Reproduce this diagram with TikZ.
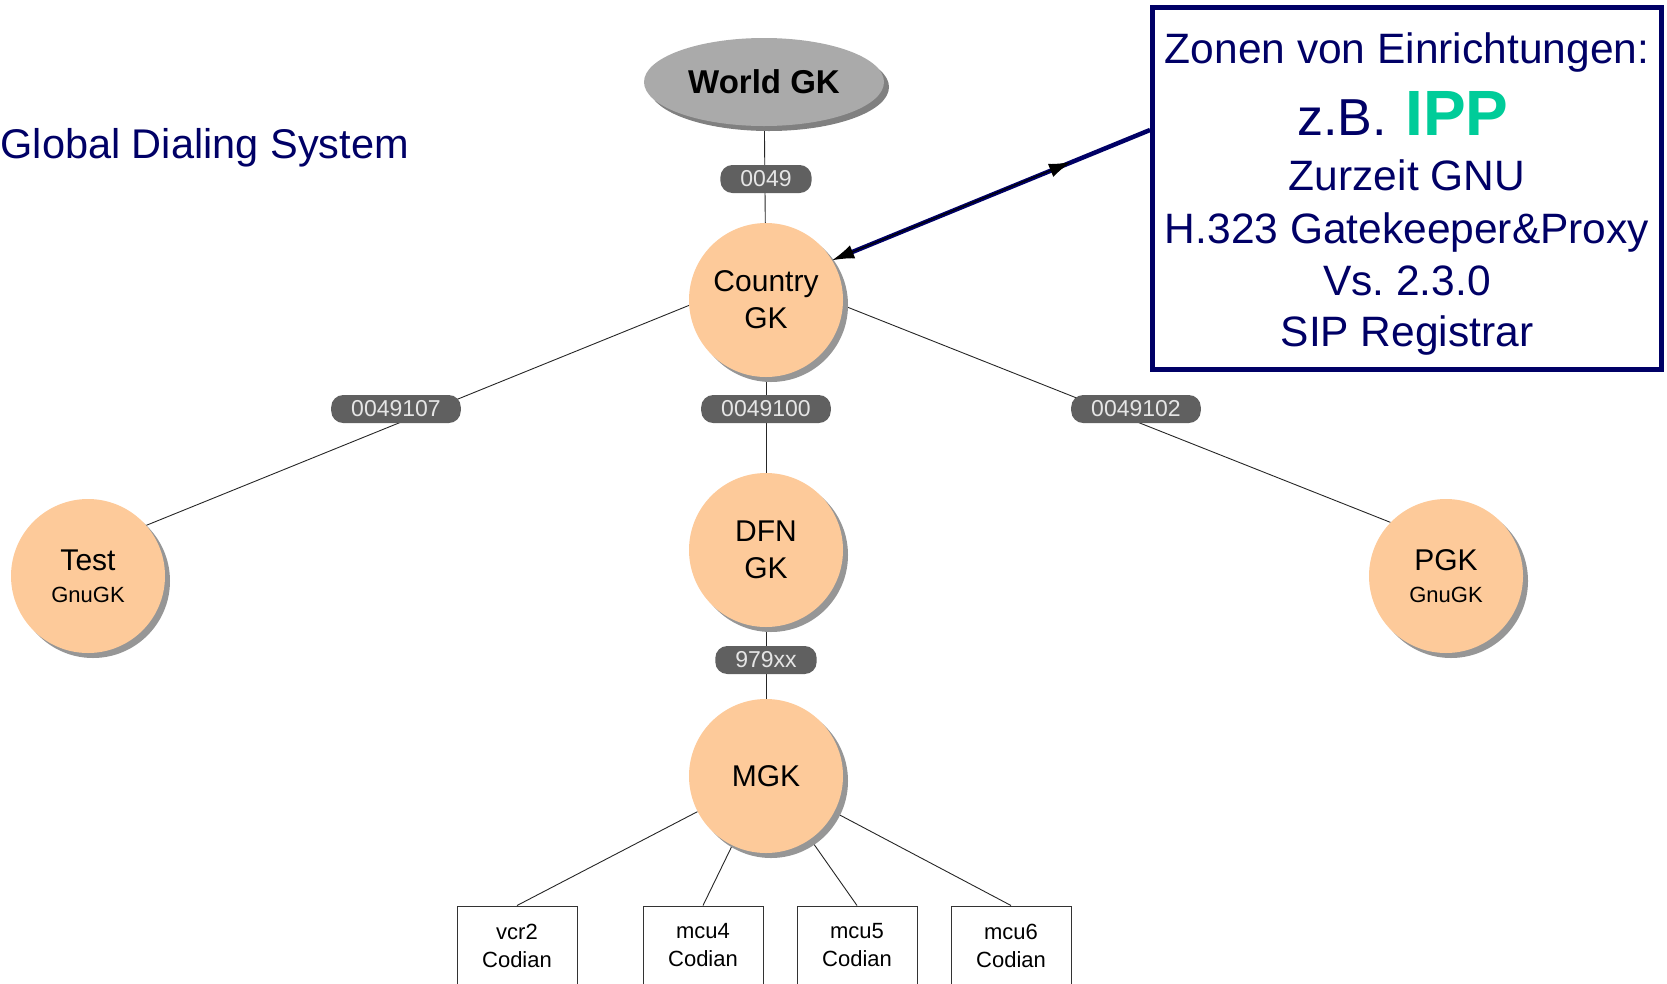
\documentclass[tikz,border=0pt]{standalone}
\usepackage{fontspec}
\setmainfont{Liberation Sans}
\usetikzlibrary{shapes.geometric,shadows,backgrounds,arrows.meta}
\definecolor{peach}{RGB}{253,202,154}
\definecolor{navyc}{RGB}{0,0,102}
\definecolor{ippgreen}{RGB}{0,204,153}
\definecolor{pillc}{RGB}{96,96,96}
\definecolor{shade}{RGB}{150,150,150}
\definecolor{worldfill}{RGB}{170,170,170}
\frenchspacing
\begin{document}
\begin{tikzpicture}[x=1pt,y=-1pt,
  gk/.style={circle, fill=peach, minimum size=154pt, inner sep=0pt, align=center,
    font=\fontsize{30}{37}\selectfont,
    drop shadow={shadow xshift=5pt, shadow yshift=-5pt, fill=shade, opacity=1}},
  gkleaf/.style={gk, font=\fontsize{30}{32}\selectfont},
  pilllabel/.style={rectangle, rounded corners=12pt, fill=pillc, text=white!90!black,
    minimum height=28pt, inner ysep=0pt, inner xsep=20pt, font=\fontsize{23}{23}\selectfont},
  devbox/.style={draw=black!80, line width=1pt, fill=white, minimum width=120pt,
    minimum height=79pt, align=center, font=\fontsize{22}{28}\selectfont},
  edgeline/.style={draw=black!85, line width=0.9pt},
  calltext/.style={text=navyc, font=\fontsize{42.5}{50}\selectfont, anchor=base, inner sep=0pt}
]
\useasboundingbox (0,0) rectangle (1667,983);

% title
\node[anchor=base east, text=navyc, font=\fontsize{41.5}{48}\selectfont, inner sep=0pt]
  (title) at (409,158) {Global Dialing System};

% graph nodes
\node[ellipse, fill=worldfill, minimum width=240pt, minimum height=88pt, inner sep=0pt,
  font=\bfseries\fontsize{33}{33}\selectfont,
  drop shadow={shadow xshift=5pt, shadow yshift=-5pt, fill=black!50, opacity=1}]
  (world) at (764,82) {World GK};
\node[gk] (country) at (766,300) {Country\\GK};
\node[gk] (dfn) at (766,550) {DFN\\GK};
\node[gk] (mgk) at (766,776) {MGK};
\node[gkleaf] (test) at (88,576) {Test\\\fontsize{22}{32}\selectfont GnuGK};
\node[gkleaf] (pgk) at (1446,576) {PGK\\\fontsize{22}{32}\selectfont GnuGK};

\node[devbox] (vcr2) at (517,945.5) {vcr2\\Codian};
\node[devbox] (mcu4) at (703,945.5) {mcu4\\Codian};
\node[devbox] (mcu5) at (857,945.5) {mcu5\\Codian};
\node[devbox] (mcu6) at (1011,945.5) {mcu6\\Codian};

% edges
\begin{pgfonlayer}{background}
\draw[edgeline] (world) -- (country);
\draw[edgeline] (country) -- (dfn);
\draw[edgeline] (dfn) -- (mgk);
\draw[edgeline] (country.184) -- (test.41);
\draw[edgeline] (country.-4) -- (pgk.136.5);
\foreach \b in {vcr2,mcu4,mcu5,mcu6} \draw[edgeline] (mgk) -- (\b.north);
\end{pgfonlayer}

% edge labels
\node[pilllabel] (l0049) at (766,179) {0049};
\node[pilllabel] (l100) at (766,409) {0049100};
\node[pilllabel] (l107) at (396,409) {0049107};
\node[pilllabel] (l102) at (1136,409) {0049102};
\node[pilllabel] (l979) at (766,660) {979xx};

% callout
\node[draw=navyc, line width=5pt, fill=white, minimum width=509pt, minimum height=362pt, inner sep=0pt]
  (callout) at (1407,188.5) {};
\coordinate (cw) at (1150,130);
\coordinate (mid) at (1071,162);
\draw[navyc, line width=4.5pt, shorten >=14pt] (cw) -- (country.31);
\draw[black, line width=1.2pt, {Latex[length=22pt,width=14pt]}-{Latex[length=22pt,width=14pt]}]
  (country.31) -- (mid);

\node[calltext] (c1) at (1407,63) {Zonen von Einrichtungen:};
\node[anchor=base east, inner sep=0pt, text=navyc, font=\fontsize{52}{60}\selectfont]
  (zb) at (1387,135) {z.B.};
\node[anchor=base west, inner sep=0pt, text=ippgreen, font=\bfseries\fontsize{64}{70}\selectfont]
  (ipp) at (1405,135) {IPP};
\node[calltext] (c3) at (1407,190) {Zurzeit GNU};
\node[calltext] (c4) at (1407,243) {H.323 Gatekeeper\&Proxy};
\node[calltext] (c5) at (1407,295) {Vs. 2.3.0};
\node[calltext] (c6) at (1407,346) {SIP Registrar};
\end{tikzpicture}
\end{document}
